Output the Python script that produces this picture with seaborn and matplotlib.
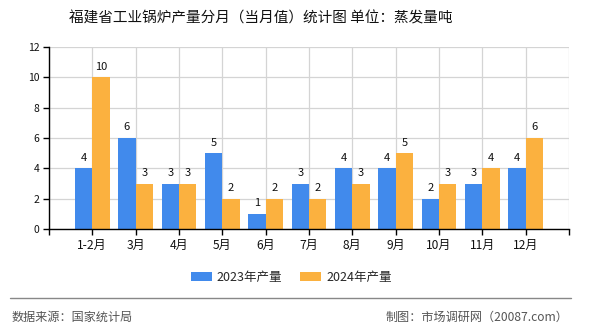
import matplotlib
matplotlib.use("Agg")
import matplotlib.pyplot as plt
import seaborn as sns
import pandas as pd
from matplotlib.lines import Line2D

months = ["1-2月", "3月", "4月", "5月", "6月", "7月", "8月", "9月", "10月", "11月", "12月"]
output_2023 = [4, 6, 3, 5, 1, 3, 4, 4, 2, 3, 4]
output_2024 = [10, 3, 3, 2, 2, 2, 3, 5, 3, 4, 6]
series_names = ["2023年产量", "2024年产量"]
series_colors = ["#418AEC", "#FBB13F"]
y_ticks = [0, 2, 4, 6, 8, 10, 12]

df = pd.DataFrame({
    "月份": months * 2,
    "产量": output_2023 + output_2024,
    "系列": [series_names[0]] * len(months) + [series_names[1]] * len(months),
})

sns.set_theme(style="white")
plt.rcParams["font.family"] = ["Noto Sans CJK SC", "DejaVu Sans"]

fig = plt.figure(figsize=(5.9, 3.3), dpi=100)
ax = fig.add_axes([49 / 590, 1 - 229 / 330, 520 / 590, 182 / 330])

sns.barplot(data=df, x="月份", y="产量", hue="系列", order=months,
            hue_order=series_names, palette=series_colors, width=0.8,
            saturation=1, linewidth=0, edgecolor="none", ax=ax, legend=True)

for container in ax.containers:
    ax.bar_label(container, fmt="%d", padding=4, fontsize=8, color="#111111")

ax.set_xlim(-1, len(months))
ax.set_ylim(0, 12)
ax.set_yticks(y_ticks)
ax.set_yticklabels([str(v) for v in y_ticks], fontsize=7.5)

ax.set_xticks(range(-1, len(months) + 1))
ax.set_xticklabels([""] + months + [""], fontsize=8.7)
ax.set_xlabel("")
ax.set_ylabel("")

ax.grid(True, axis="both", color="#d4d4d4", linewidth=0.9)
ax.set_axisbelow(True)
for side in ["top", "right"]:
    ax.spines[side].set_visible(False)
for side in ["left", "bottom"]:
    ax.spines[side].set_color("black")
    ax.spines[side].set_linewidth(1.0)
ax.tick_params(axis="both", which="both", direction="out", length=4, width=1,
               color="black", labelcolor="#111111", pad=3,
               bottom=True, left=True)

handles, labels = ax.get_legend_handles_labels()
ax.legend(handles, labels, loc="center", bbox_to_anchor=(291 / 590, 1 - 277 / 330),
          bbox_transform=fig.transFigure, ncol=2, frameon=False, fontsize=9,
          handlelength=1.7, handleheight=0.75, columnspacing=1.4, handletextpad=0.4)

fig.text(261 / 590, 1 - 18 / 330, "福建省工业锅炉产量分月（当月值）统计图 单位：蒸发量吨",
         ha="center", va="center", fontsize=10.5, color="#111111")

fig.add_artist(Line2D([10 / 590, 571 / 590], [1 - 298 / 330, 1 - 298 / 330],
                      transform=fig.transFigure, color="#888888", linewidth=1.0))
fig.text(12 / 590, 1 - 317 / 330, "数据来源：国家统计局", ha="left", va="center",
         fontsize=8.7, color="#555555")
fig.text(568 / 590, 1 - 317 / 330, "制图：市场调研网（20087.com）", ha="right", va="center",
         fontsize=8.7, color="#555555")

fig.savefig("out.png", dpi=100)
